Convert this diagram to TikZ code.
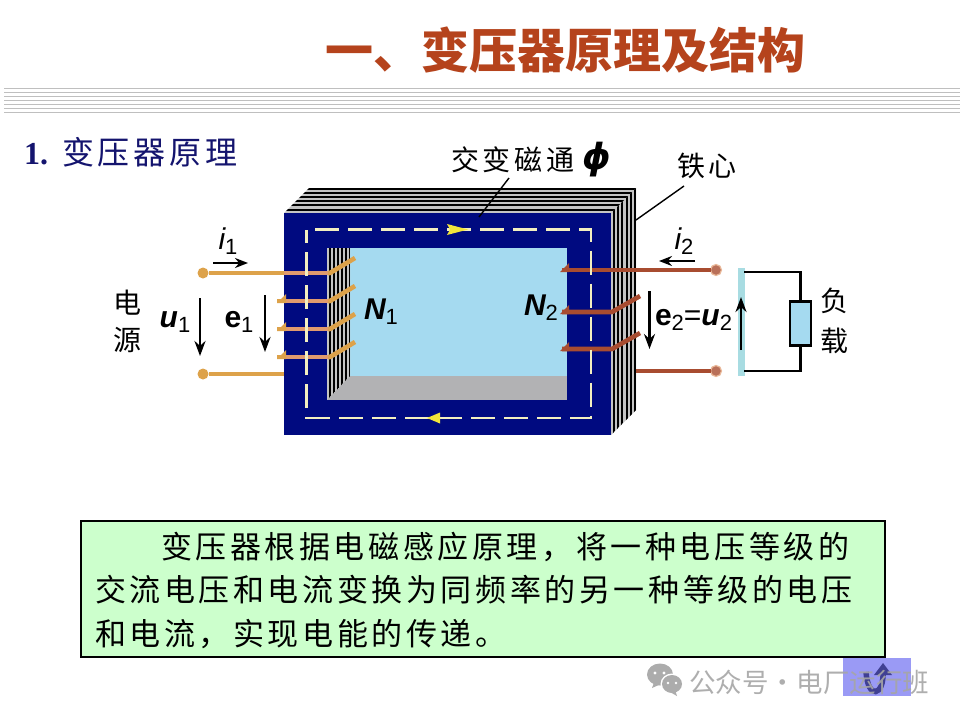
\documentclass[tikz,border=0pt]{standalone}
\usepackage{fontspec}
\setmainfont{Liberation Sans}
\newfontfamily\myserif{Liberation Serif}
\newfontfamily\mycjk{Noto Sans CJK SC}
\newfontfamily\mycjkbody[LetterSpace=11.6]{Noto Sans CJK SC}
\newfontfamily\mycjksec[LetterSpace=12]{Noto Sans CJK SC}
\newfontfamily\mycjklab[LetterSpace=14]{Noto Sans CJK SC}
\newfontfamily\mydejavu{DejaVu Sans}
\usetikzlibrary{arrows.meta}
\definecolor{coreblue}{HTML}{000A80}
\definecolor{winblue}{HTML}{A5DAF0}
\definecolor{lamgray}{HTML}{C4C4C4}
\definecolor{floorgray}{HTML}{B2B2B4}
\definecolor{dashy}{HTML}{F3EFC0}
\definecolor{arrowy}{HTML}{F2E53A}
\definecolor{wireo}{HTML}{DDA24A}
\definecolor{wirep}{HTML}{E09A6E}
\definecolor{wirer}{HTML}{A84C30}
\definecolor{titlec}{HTML}{B5431C}
\definecolor{secc}{HTML}{14146E}
\definecolor{boxg}{HTML}{CCFFCC}
\definecolor{btn}{HTML}{9A9AF5}
\definecolor{barc}{HTML}{A8DCE2}
\newcommand{\lab}[2]{#1\raisebox{-5pt}{\fontsize{22}{22}\selectfont\mdseries\upshape #2}}
\tikzset{
  x=1pt,y=-1pt,
  every node/.style={inner sep=0pt,outer sep=0pt},
  blackarrow/.style={-{Stealth[length=15pt,width=11pt]},line width=2.8pt,black},
  smallarrow/.style={-{Stealth[length=13pt,width=10pt]},line width=2.8pt,black},
  wireleft/.style={line width=4.6pt,wireo},
  wireover/.style={line width=4.6pt,wirep},
  wireright/.style={line width=4.6pt,wirer},
  dotleft/.style={circle,minimum size=11pt,fill=wireo},
  dotright/.style={circle,minimum size=11pt,fill=wirer!80!white,draw=wirep!70!white,line width=1.2pt},
  lbl/.style={font=\fontsize{30}{30}\selectfont\bfseries},
  cn/.style={font=\fontsize{28}{28}\selectfont\mycjk},
  fluxdash/.style={line width=2.6pt,dashy},
  leader/.style={line width=1.4pt,black},
  circuit/.style={line width=2.6pt,black},
}
\begin{document}
\begin{tikzpicture}
\useasboundingbox (0,0) rectangle (960,720);
\fill[white] (0,0) rectangle (960,720);
% header rules
\foreach \y in {88,92,96,100,104,108,112} \draw[line width=0.9pt,gray!50] (4,\y) -- (960,\y);
% titles
\node[anchor=west,text=titlec,font=\fontsize{48}{48}\selectfont\mycjk\bfseries] (title) at (325,50) {一、变压器原理及结构};
\node[anchor=west,text=secc,font=\fontsize{32}{32}\selectfont\myserif\bfseries] (sec) at (24,152) {1.\hspace{14pt}{\mycjksec\mdseries 变压器原理}};
% core laminations
\fill[lamgray] (284,213) -- (309,188) -- (636,188) -- (636,410) -- (611,435) -- (611,213) -- cycle;
\begin{scope}
\clip (284,213) -- (309,188) -- (636,188) -- (611,213) -- cycle;
\foreach \i in {0,...,5} \draw[line width=2pt,black] (280,188.5+4.2*\i) -- (640,188.5+4.2*\i);
\end{scope}
\begin{scope}
\clip (611,213) -- (636,188) -- (636,410) -- (611,435) -- cycle;
\foreach \i in {0,...,5} \draw[line width=2pt,black] (614+4.2*\i,180) -- (614+4.2*\i,440);
\end{scope}
% core front and window
\fill[coreblue] (284,213) rectangle (611,435);
\fill[winblue] (327,248) rectangle (567,400);
\fill[floorgray] (327,376) rectangle (567,400);
\fill[lamgray] (327,248) -- (350,248) -- (350,376) -- (327,400) -- cycle;
\begin{scope}
\clip (327,248) -- (350,248) -- (350,376) -- (327,400) -- cycle;
\foreach \i in {0,...,5} \draw[line width=2pt,black] (329.5+4.1*\i,240) -- (329.5+4.1*\i,405);
\end{scope}
% terminals
\node[dotleft] (t1) at (203,273) {};
\node[dotleft] (t2) at (203,374) {};
\coordinate (c1) at (284,273);
\coordinate (c2) at (284,374);
\draw[wireleft] (t1) -- (c1);
\draw[wireleft] (t2) -- (c2);
% primary winding
\draw[wireover] (c1) -- (330,273);
\draw[wireleft,line join=round] (328,273) -- (330,273) -- (355,258);
\foreach \y in {301,329,357} {
  \draw[wireover] (284,\y) -- (330,\y);
  \draw[wireleft] (277,\y) -- (284,\y);
  \fill[wireo] (277,\y+2) -- (286,\y-7) -- (286,\y+2) -- cycle;
  \draw[wireleft,line join=round] (328,\y) -- (330,\y) -- (355,\y-15);
}
% secondary winding
\node[dotright] (t3) at (716,270) {};
\node[dotright] (t4) at (716,371) {};
\coordinate (c3) at (562,270);
\coordinate (c4) at (636,371);
\draw[wireright] (c3) -- (t3);
\draw[wireright] (c4) -- (t4);
\fill[wirer] (560,272) -- (569,263) -- (569,272) -- cycle;
\foreach \y in {312,349} {
  \fill[wirer] (560,\y+2) -- (569,\y-7) -- (569,\y+2) -- cycle;
  \draw[wireright,line join=round] (562,\y) -- (612,\y) -- (640,\y-16);
}
% flux path
\draw[fluxdash,dash pattern=on 24pt off 9pt,line join=miter] (315,229.5) -- (591,229.5) -- (591,418) -- (306.5,418) -- (306.5,229.5);
\fill[arrowy] (447,224) -- (468,229.5) -- (447,235) -- (450,229.5) -- cycle;
\fill[arrowy] (440,412.5) -- (427,418) -- (440,423.5) -- cycle;
% leaders
\coordinate (l1) at (509,178);
\coordinate (l2) at (479,217);
\coordinate (l3) at (684,186);
\coordinate (l4) at (636,220);
\draw[leader] (l1) -- (l2);
\draw[leader] (l3) -- (l4);
% top labels
\node[anchor=west,font=\fontsize{28}{28}\selectfont\mycjklab] (fluxt) at (451,160) {交变磁通};
\node[font=\fontsize{36}{36}\selectfont\mydejavu\itshape\bfseries] (phi) at (597,160) {ϕ};
\node[anchor=west,font=\fontsize{28}{28}\selectfont\mycjklab] (iron) at (677,166) {铁心};
% circuit labels
\node[cn] (pw1) at (127,303) {电};
\node[cn] (pw2) at (127,340) {源};
\node[cn] (ld1) at (834,301) {负};
\node[cn] (ld2) at (834,341) {载};
\node[lbl] (u1) at (175,322) {\lab{\itshape u}{1}};
\node[lbl] (e1) at (239,322) {\lab{e}{1}};
\node[lbl] (n1) at (381,312) {\lab{\itshape N}{1}};
\node[lbl] (n2) at (541,308) {\lab{\itshape N}{2}};
\node[lbl] (e2) at (693.5,320) {\lab{e}{2}{\mdseries =}\lab{\itshape u}{2}};
\node[font=\fontsize{30}{30}\selectfont\itshape] (i1) at (228,241) {\lab{i}{1}};
\node[font=\fontsize{30}{30}\selectfont\itshape] (i2) at (684,241) {\lab{i}{2}};
% reference arrows
\coordinate (a1) at (200,298); \coordinate (a2) at (200,356);
\coordinate (a3) at (265,295); \coordinate (a4) at (265,352);
\coordinate (a5) at (649.5,291); \coordinate (a6) at (649.5,349);
\coordinate (a7) at (213,263); \coordinate (a8) at (248,263);
\coordinate (a9) at (695,261); \coordinate (a10) at (659,261);
\draw[blackarrow] (a1) -- (a2);
\draw[blackarrow] (a3) -- (a4);
\draw[blackarrow] (a5) -- (a6);
\draw[smallarrow] (a7) -- (a8);
\draw[smallarrow] (a9) -- (a10);
% load
\fill[barc] (738,268) rectangle (745,376);
\node[draw=black,line width=2.6pt,fill=winblue,minimum width=21pt,minimum height=44pt] (rl) at (800.5,323.5) {};
\coordinate (w1) at (744,272); \coordinate (w2) at (744,371);
\draw[circuit] (w1) -| (rl.north);
\draw[circuit] (w2) -| (rl.south);
\coordinate (a11) at (741,350); \coordinate (a12) at (741,297);
\draw[blackarrow] (a11) -- (a12);
% text box
\node[draw=black,line width=2pt,fill=boxg,minimum width=804pt,minimum height=136pt,anchor=north west] (box) at (80.5,520.5) {};
\node[anchor=west,font=\fontsize{31}{31}\selectfont\mycjkbody] (t1l) at (161,547) {变压器根据电磁感应原理，将一种电压等级的};
\node[anchor=west,font=\fontsize{31}{31}\selectfont\mycjkbody] (t2l) at (95,590) {交流电压和电流变换为同频率的另一种等级的电压};
\node[anchor=west,font=\fontsize{31}{31}\selectfont\mycjkbody] (t3l) at (95,634) {和电流，实现电能的传递。};
% nav button
\fill[btn] (843,658) rectangle (911,696);
\draw[line width=5.5pt,black!35!blue!50!gray] (866,672) .. controls (868,700) and (884,696) .. (883,672);
\fill[black!35!blue!50!gray] (874,675) -- (883,663) -- (892,675) -- cycle;
% watermark
\fill[gray!65] (660,674.5) ellipse (13pt and 11pt);
\fill[gray!65] (652,688) -- (655,680) -- (661,684) -- cycle;
\fill[white] (672,684) ellipse (11.5pt and 10.5pt);
\fill[gray!65] (672,684) ellipse (10pt and 9pt);
\fill[gray!65] (677,696) -- (675,690) -- (670,692) -- cycle;
\fill[white] (655,673) circle (1.6pt) (664,673) circle (1.6pt) (668,683) circle (1.3pt) (676,683) circle (1.3pt);
\node[anchor=west,text=gray!70,opacity=0.9,font=\fontsize{26.5}{26.5}\selectfont\mycjk] (wm) at (689,682) {公众号\hspace{1pt}·\hspace{1pt}电厂运行班};
\end{tikzpicture}
\end{document}
